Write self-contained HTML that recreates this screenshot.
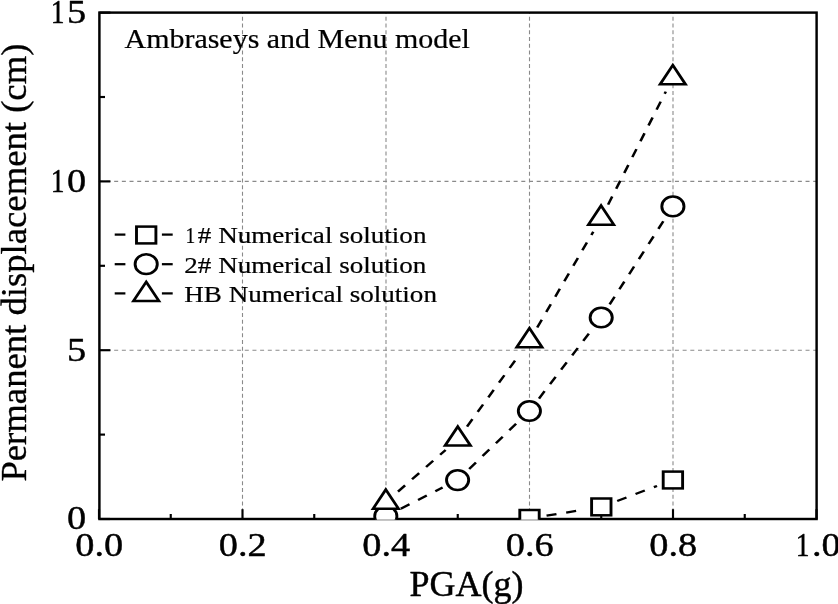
<!DOCTYPE html>
<html><head><meta charset="utf-8"><title>Permanent displacement vs PGA</title>
<style>
html,body{margin:0;padding:0;background:#fff;}
body{width:838px;height:604px;overflow:hidden;position:relative;font-family:"Liberation Serif",serif;}
</style></head><body>
<svg width="838" height="604" viewBox="0 0 838 604" style="position:absolute;left:0;top:0;display:block;will-change:transform;filter:grayscale(1)">
<rect x="0" y="0" width="838" height="604" fill="#fff"/>
<defs><clipPath id="pc"><rect x="0.00" y="0.00" width="712.01" height="519.70"/></clipPath></defs>
<g stroke="#8a8a8a" stroke-width="1.1" fill="none"><line x1="242.50" y1="519.00" x2="242.50" y2="12.60" stroke-dasharray="4 2.732"/><line x1="386.00" y1="519.00" x2="386.00" y2="12.60" stroke-dasharray="4 2.732"/><line x1="529.50" y1="519.00" x2="529.50" y2="12.60" stroke-dasharray="4 2.732"/><line x1="673.00" y1="519.00" x2="673.00" y2="12.60" stroke-dasharray="4 2.732"/><line x1="98.80" y1="350.20" x2="816.60" y2="350.20" stroke-dasharray="4 3.682"/><line x1="98.80" y1="181.40" x2="816.60" y2="181.40" stroke-dasharray="4 3.682"/></g>
<rect x="99.40" y="12.60" width="717.20" height="506.40" fill="none" stroke="#000" stroke-width="2.45"/>
<g stroke="#000" stroke-width="2.15" fill="none"><line x1="99.00" y1="519.00" x2="99.00" y2="509.20"/><line x1="170.75" y1="519.00" x2="170.75" y2="514.00"/><line x1="242.50" y1="519.00" x2="242.50" y2="509.20"/><line x1="314.25" y1="519.00" x2="314.25" y2="514.00"/><line x1="386.00" y1="519.00" x2="386.00" y2="509.20"/><line x1="457.75" y1="519.00" x2="457.75" y2="514.00"/><line x1="529.50" y1="519.00" x2="529.50" y2="509.20"/><line x1="601.25" y1="519.00" x2="601.25" y2="514.00"/><line x1="673.00" y1="519.00" x2="673.00" y2="509.20"/><line x1="744.75" y1="519.00" x2="744.75" y2="514.00"/><line x1="816.50" y1="519.00" x2="816.50" y2="509.20"/><line x1="99.40" y1="519.00" x2="110.40" y2="519.00"/><line x1="99.40" y1="434.60" x2="105.00" y2="434.60"/><line x1="99.40" y1="350.20" x2="110.40" y2="350.20"/><line x1="99.40" y1="265.80" x2="105.00" y2="265.80"/><line x1="99.40" y1="181.40" x2="110.40" y2="181.40"/><line x1="99.40" y1="97.00" x2="105.00" y2="97.00"/><line x1="99.40" y1="12.60" x2="110.40" y2="12.60"/></g>
<g transform="scale(1.1550,1)" clip-path="url(#pc)">
<g stroke="#000" stroke-width="2.25" fill="none" stroke-dasharray="8.75 8.55"><line x1="473.19" y1="515.67" x2="505.86" y2="509.63"/><line x1="534.37" y1="500.93" x2="568.84" y2="485.97"/><line x1="346.99" y1="508.66" x2="383.22" y2="487.59"/><line x1="406.23" y1="468.90" x2="448.32" y2="422.15"/><line x1="466.66" y1="398.51" x2="512.21" y2="329.99"/><line x1="527.84" y1="304.41" x2="575.28" y2="219.49"/><line x1="344.57" y1="491.63" x2="385.82" y2="449.92"/><line x1="404.36" y1="426.56" x2="450.36" y2="353.59"/><line x1="465.13" y1="327.52" x2="513.66" y2="231.68"/><line x1="526.50" y1="204.58" x2="576.45" y2="91.62"/></g>
<g stroke="#000" stroke-width="2.50" fill="#fff" stroke-linejoin="miter"><rect x="450.04" y="510.00" width="16.80" height="16.80"/><rect x="512.21" y="498.50" width="16.80" height="16.80"/><rect x="574.20" y="471.60" width="16.80" height="16.80"/><ellipse cx="334.03" cy="516.20" rx="9.60" ry="9.85"/><ellipse cx="396.19" cy="480.05" rx="9.60" ry="9.85"/><ellipse cx="458.35" cy="411.00" rx="9.60" ry="9.85"/><ellipse cx="520.52" cy="317.50" rx="9.60" ry="9.85"/><ellipse cx="582.60" cy="206.40" rx="9.60" ry="9.85"/><polygon points="334.03,489.60 345.03,508.65 323.03,508.65"/><polygon points="396.36,426.55 407.36,445.60 385.36,445.60"/><polygon points="458.35,328.20 469.35,347.25 447.35,347.25"/><polygon points="520.43,205.60 531.43,224.65 509.43,224.65"/><polygon points="582.51,65.20 593.51,84.25 571.51,84.25"/></g>
</g>
<g transform="scale(1.1550,1)">
<g stroke="#000" stroke-width="2.25" fill="none"><line x1="99.31" y1="234.60" x2="108.57" y2="234.60"/><line x1="140.17" y1="234.60" x2="149.52" y2="234.60"/></g><g stroke="#000" stroke-width="2.25" fill="none"><line x1="99.31" y1="264.20" x2="108.57" y2="264.20"/><line x1="140.17" y1="264.20" x2="149.52" y2="264.20"/></g><g stroke="#000" stroke-width="2.25" fill="none"><line x1="99.31" y1="293.40" x2="108.57" y2="293.40"/><line x1="140.17" y1="293.40" x2="149.52" y2="293.40"/></g>
<g stroke="#000" stroke-width="2.50" fill="#fff" stroke-linejoin="miter"><rect x="118.18" y="226.60" width="16.80" height="16.80"/><ellipse cx="126.58" cy="264.20" rx="9.60" ry="9.85"/><polygon points="126.58,281.90 137.58,300.95 115.58,300.95"/></g>
</g>
<g font-family="'Liberation Serif', serif" fill="#000" stroke="#000" stroke-width="0.45" stroke-linejoin="round"><text transform="translate(86.20,529.40) scale(1.1400,1.0000)" font-size="33.60" text-anchor="end">0</text><text transform="translate(86.20,360.60) scale(1.1400,1.0000)" font-size="33.60" text-anchor="end">5</text><text transform="translate(86.20,191.80) scale(1.1400,1.0000)" font-size="33.60" text-anchor="end">0</text><text transform="translate(50.77,191.80) scale(0.8208,1)" font-size="33.60" text-anchor="start">1</text><text transform="translate(86.20,23.00) scale(1.1400,1.0000)" font-size="33.60" text-anchor="end">5</text><text transform="translate(50.77,23.00) scale(0.8208,1)" font-size="33.60" text-anchor="start">1</text><text transform="translate(99.30,556.10) scale(1.1400,1.0000)" font-size="33.60" text-anchor="middle">0.0</text><text transform="translate(242.80,556.10) scale(1.1400,1.0000)" font-size="33.60" text-anchor="middle">0.2</text><text transform="translate(386.30,556.10) scale(1.1400,1.0000)" font-size="33.60" text-anchor="middle">0.4</text><text transform="translate(529.80,556.10) scale(1.1400,1.0000)" font-size="33.60" text-anchor="middle">0.6</text><text transform="translate(673.30,556.10) scale(1.1400,1.0000)" font-size="33.60" text-anchor="middle">0.8</text><text transform="translate(795.73,556.10) scale(0.8208,1)" font-size="33.60" text-anchor="start">1</text><text transform="translate(812.01,556.10) scale(1.1400,1.0000)" font-size="33.60" text-anchor="start">.0</text><text transform="translate(466.50,595.80) scale(1.0200,1.0000)" font-size="35.30" text-anchor="middle">PGA(g)</text><text transform="translate(25.70,262.60) rotate(-90) scale(0.9970,1.0000)" font-size="36.80" text-anchor="middle" stroke-width="0.35">Permanent displacement (cm)</text><text transform="translate(124.50,47.90) scale(1.1100,1.0000)" font-size="27.00" text-anchor="start" stroke-width="0.22">Ambraseys and Menu model</text><text transform="translate(185.53,242.90) scale(0.8194,1)" font-size="23.80" text-anchor="start" stroke-width="0.22">1</text><text transform="translate(197.84,242.90) scale(1.1380,1.0000)" font-size="23.80" text-anchor="start" stroke-width="0.22"># Numerical solution</text><text transform="translate(184.30,272.60) scale(1.1380,1.0000)" font-size="23.80" text-anchor="start" stroke-width="0.22">2# Numerical solution</text><text transform="translate(184.30,302.00) scale(1.1380,1.0000)" font-size="23.80" text-anchor="start" stroke-width="0.22">HB Numerical solution</text></g>
</svg>
</body></html>
